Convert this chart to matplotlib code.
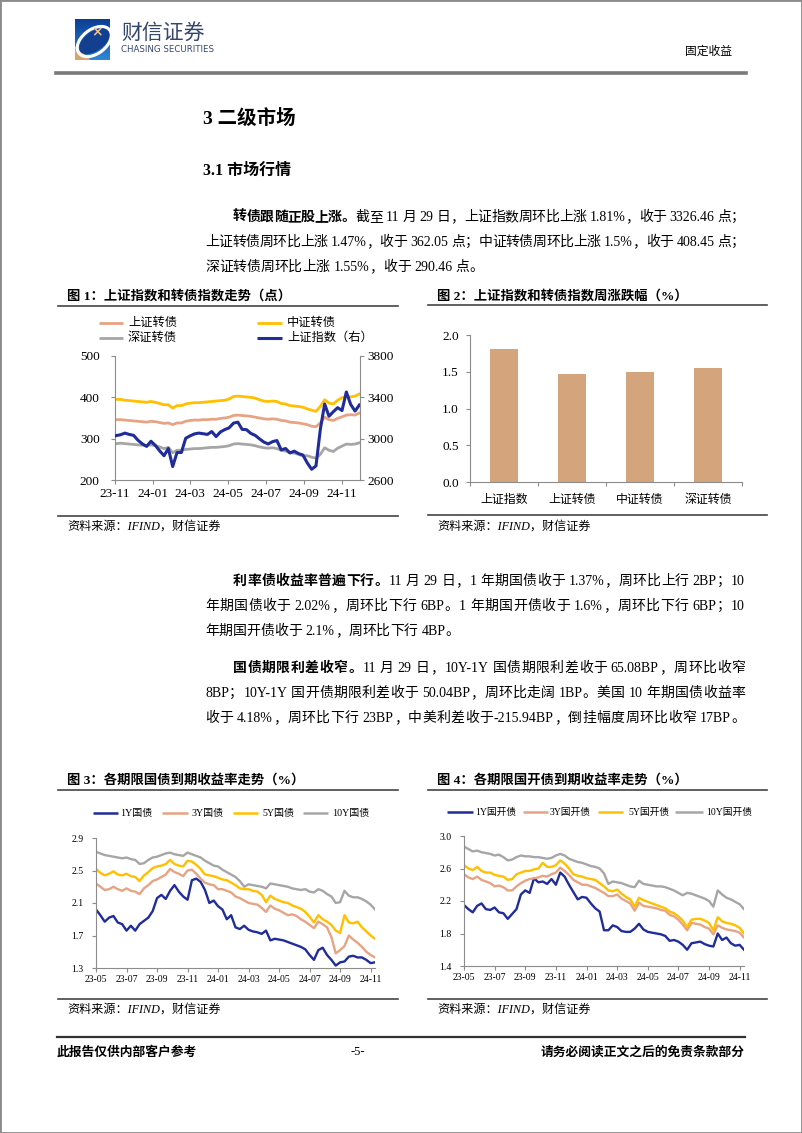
import numpy as np
import pandas as pd
import matplotlib
matplotlib.use("Agg")
import matplotlib.pyplot as plt
import matplotlib.dates as mdates
from matplotlib.lines import Line2D
from matplotlib.patches import Rectangle, Polygon, Ellipse
from matplotlib.colors import LinearSegmentedColormap

W, H = 802, 1133
SERIF = ['Liberation Serif', 'Noto Sans CJK SC']
SANS = ['Noto Sans CJK SC', 'DejaVu Sans']

BLUE = '#1f2c99'
ORANGE = '#e6a484'
YELLOW = '#ffc000'
GRAY = '#a6a6a6'
BAR = '#d4a57c'
SPINE = '#8c8c8c'

# ---------------- data ----------------
# fig 1: weekly closes, 2023-11 .. 2024-11-29
week_dates = pd.date_range('2023-11-03', '2024-11-29', freq='W-FRI')
sse = [3030, 3038, 3054, 3041, 3032, 2985, 2950, 2925, 2975, 2935, 2882, 2835, 2905, 2730, 2866,
       2866, 3004, 3027, 3046, 3054, 3048, 3041, 3069, 3020, 3065, 3088, 3105, 3150, 3160, 3090,
       3087, 3051, 3032, 2998, 2967, 2949, 2971, 2982, 2891, 2905, 2862, 2879, 2855, 2842, 2765,
       2704, 2736, 3088, 3336, 3217, 3261, 3300, 3272, 3452, 3331, 3267, 3326]
sh_cb = [346, 346, 345, 344, 343, 342, 341, 340, 342, 341, 339, 337, 338, 334, 338, 338, 342, 344,
         345, 345, 346, 346, 347, 347, 349, 350, 352, 356, 357, 356, 355, 354, 352, 350, 348, 347,
         348, 347, 344, 343, 340, 339, 338, 336, 334, 330, 329, 338, 352, 346, 344, 349, 353, 357,
         358, 357, 362]
csi_cb = [395, 395, 393, 392, 391, 390, 389, 388, 390, 388, 385, 382, 382, 374, 380, 380, 384, 386,
          387, 387, 388, 389, 390, 391, 392, 393, 396, 402, 403, 402, 401, 400, 398, 394, 391, 390,
          391, 390, 385, 384, 380, 379, 378, 376, 372, 369, 366, 378, 394, 386, 384, 393, 399, 402,
          401, 403, 408]
sz_cb = [288, 289, 288, 287, 286, 285, 284, 284, 285, 283, 280, 276, 279, 266, 272, 272, 274, 275,
         276, 276, 277, 278, 279, 279, 280, 281, 283, 287, 288, 287, 286, 285, 283, 280, 278, 277,
         278, 276, 272, 270, 266, 265, 262, 258, 259, 255, 253, 262, 278, 272, 269, 277, 282, 287,
         286, 287, 290]

# fig 2: weekly change (%)
bar_names = ['上证指数', '上证转债', '中证转债', '深证转债']
bar_chg = [1.81, 1.47, 1.5, 1.55]

# fig 3 / fig 4: yields (%), sampled points 23-05 .. 24-11
ytick_labels = ['23-05', '23-07', '23-09', '23-11', '24-01', '24-03', '24-05', '24-07', '24-09', '24-11']
gov_1y = [2.02, 1.95, 1.87, 1.92, 1.94, 1.86, 1.84, 1.76, 1.82, 1.76, 1.84, 1.88, 1.92, 2.00, 2.16,
          2.20, 2.15, 2.25, 2.32, 2.24, 2.18, 2.14, 2.38, 2.40, 2.36, 2.26, 2.10, 2.13, 2.06, 2.02,
          1.90, 1.95, 1.80, 1.78, 1.82, 1.77, 1.75, 1.74, 1.72, 1.76, 1.64, 1.66, 1.65, 1.64, 1.62,
          1.60, 1.58, 1.56, 1.53, 1.46, 1.40, 1.52, 1.55, 1.46, 1.40, 1.33, 1.37, 1.38, 1.44, 1.45,
          1.43, 1.43, 1.40, 1.36, 1.37]
gov_3y = [2.34, 2.30, 2.26, 2.27, 2.30, 2.27, 2.25, 2.28, 2.25, 2.24, 2.21, 2.28, 2.32, 2.37, 2.39,
          2.42, 2.45, 2.52, 2.48, 2.46, 2.43, 2.50, 2.51, 2.46, 2.40, 2.35, 2.33, 2.32, 2.27, 2.27,
          2.25, 2.23, 2.18, 2.16, 2.13, 2.10, 2.09, 2.08, 2.04, 1.99, 2.07, 2.03, 2.01, 1.98, 1.95,
          1.96, 1.94, 1.90, 1.87, 1.83, 1.79, 1.87, 1.84, 1.80, 1.68, 1.48, 1.52, 1.57, 1.70, 1.65,
          1.61, 1.56, 1.50, 1.46, 1.43]
gov_5y = [2.52, 2.47, 2.44, 2.46, 2.49, 2.45, 2.44, 2.46, 2.43, 2.42, 2.37, 2.44, 2.48, 2.53, 2.55,
          2.56, 2.58, 2.63, 2.58, 2.56, 2.55, 2.62, 2.61, 2.57, 2.52, 2.45, 2.44, 2.43, 2.41, 2.39,
          2.38, 2.35, 2.32, 2.28, 2.27, 2.27, 2.25, 2.24, 2.20, 2.11, 2.19, 2.15, 2.13, 2.11, 2.10,
          2.07, 2.05, 2.03, 1.99, 1.93, 1.86, 1.95, 1.90, 1.87, 1.83, 1.76, 1.73, 1.95, 1.86, 1.85,
          1.87, 1.80, 1.75, 1.70, 1.66]
gov_10y = [2.73, 2.71, 2.69, 2.68, 2.67, 2.66, 2.65, 2.66, 2.64, 2.63, 2.58, 2.59, 2.63, 2.66, 2.67,
           2.69, 2.71, 2.72, 2.70, 2.69, 2.68, 2.72, 2.70, 2.68, 2.66, 2.62, 2.59, 2.56, 2.55, 2.51,
           2.48, 2.45, 2.42, 2.37, 2.30, 2.33, 2.32, 2.31, 2.30, 2.28, 2.34, 2.33, 2.32, 2.31, 2.30,
           2.28, 2.27, 2.26, 2.27, 2.24, 2.23, 2.27, 2.25, 2.21, 2.18, 2.10, 2.11, 2.25, 2.19, 2.17,
           2.17, 2.15, 2.12, 2.08, 2.02]
cdb_1y = [2.15, 2.10, 2.06, 2.14, 2.17, 2.10, 2.09, 2.12, 2.06, 2.05, 1.98, 2.04, 2.10, 2.28, 2.33,
          2.30, 2.48, 2.43, 2.44, 2.41, 2.47, 2.40, 2.55, 2.50, 2.40, 2.31, 2.22, 2.25, 2.24, 2.17,
          2.11, 2.07, 1.84, 1.84, 1.90, 1.88, 1.83, 1.82, 1.82, 1.86, 1.92, 1.85, 1.82, 1.81, 1.80,
          1.79, 1.77, 1.71, 1.72, 1.70, 1.66, 1.60, 1.68, 1.69, 1.70, 1.67, 1.65, 1.64, 1.80, 1.72,
          1.75, 1.68, 1.65, 1.66, 1.60]
cdb_3y = [2.53, 2.49, 2.47, 2.50, 2.46, 2.44, 2.42, 2.38, 2.39, 2.37, 2.33, 2.33, 2.38, 2.42, 2.45,
          2.47, 2.48, 2.49, 2.51, 2.50, 2.53, 2.55, 2.61, 2.57, 2.52, 2.46, 2.43, 2.40, 2.40, 2.38,
          2.36, 2.33, 2.30, 2.26, 2.26, 2.28, 2.23, 2.20, 2.17, 2.08, 2.18, 2.14, 2.13, 2.12, 2.11,
          2.09, 2.08, 2.03, 2.01, 1.97, 1.91, 1.84, 1.93, 1.92, 1.91, 1.88, 1.86, 1.79, 1.90, 1.87,
          1.85, 1.84, 1.83, 1.81, 1.75]
cdb_5y = [2.64, 2.60, 2.58, 2.62, 2.57, 2.55, 2.55, 2.52, 2.51, 2.50, 2.46, 2.47, 2.53, 2.55, 2.57,
          2.57, 2.59, 2.60, 2.67, 2.62, 2.62, 2.64, 2.70, 2.66, 2.60, 2.53, 2.51, 2.50, 2.48, 2.47,
          2.46, 2.42, 2.38, 2.33, 2.32, 2.34, 2.29, 2.25, 2.22, 2.13, 2.24, 2.21, 2.19, 2.17, 2.15,
          2.13, 2.11, 2.07, 2.05, 2.01, 1.96, 1.88, 1.97, 1.98, 1.98, 1.96, 1.93, 1.84, 2.00, 1.95,
          1.93, 1.92, 1.90, 1.87, 1.80]
cdb_10y = [2.87, 2.84, 2.81, 2.82, 2.80, 2.79, 2.78, 2.76, 2.77, 2.74, 2.70, 2.71, 2.74, 2.76, 2.75,
           2.75, 2.74, 2.74, 2.73, 2.72, 2.73, 2.76, 2.78, 2.76, 2.72, 2.70, 2.68, 2.67, 2.65, 2.63,
           2.62, 2.60, 2.54, 2.41, 2.44, 2.43, 2.42, 2.40, 2.38, 2.37, 2.45, 2.41, 2.40, 2.39, 2.38,
           2.38, 2.37, 2.35, 2.33, 2.30, 2.27, 2.30, 2.29, 2.27, 2.25, 2.23, 2.20, 2.13, 2.33, 2.28,
           2.24, 2.22, 2.19, 2.16, 2.10]

fig = plt.figure(figsize=(W / 100, H / 100), dpi=100)
renderer = fig.canvas.get_renderer()


def fx(x):
    return x / W


def fy(y):
    return 1 - y / H


def box(l, t, r, b):
    return [fx(l), fy(b), (r - l) / W, (b - t) / H]


def put(x, y, s, size, family=SERIF, **kw):
    kw.setdefault('va', 'center')
    return fig.text(fx(x), fy(y), s, fontsize=size, family=family, **kw)


def hline(x0, x1, y, lw=1.2, color='#444444'):
    fig.add_artist(Line2D([fx(x0), fx(x1)], [fy(y), fy(y)], transform=fig.transFigure,
                          color=color, lw=lw))


def tokens(s):
    out, buf, space = [], '', False
    for ch in s:
        if ch == ' ':
            if buf:
                out.append((buf, space))
                buf, space = '', False
            space = True
        elif ord(ch) < 128:
            buf += ch
        else:
            if buf:
                out.append((buf, space))
                buf, space = '', False
            out.append((ch, space))
            space = False
    if buf:
        out.append((buf, space))
    return out


def para_line(x0, x1, y, parts, size=10, justify=True):
    # parts: (text, bold) pieces; CJK chars spread evenly to fill x0..x1
    items = []
    for s, bold in parts:
        for tk, sp in tokens(s):
            items.append((tk, sp, bold))
    arts, widths, pre = [], [], []
    sp_w = size * 100 / 72 * 0.25
    for tk, sp, bold in items:
        t = fig.text(0, fy(y + 5), tk, fontsize=size, family=SERIF,
                     weight='bold' if bold else 'normal', va='baseline')
        arts.append(t)
        widths.append(t.get_window_extent(renderer).width)
        pre.append(sp_w if sp else 0)
    gap = 0
    if justify and len(items) > 1:
        gap = (x1 - x0 - sum(widths) - sum(pre)) / (len(items) - 1)
    x = x0
    for i, t in enumerate(arts):
        x += pre[i]
        t.set_x(fx(x))
        x += widths[i] + gap


def legend_item(x0, x1, y, color, lw, label, size, tx):
    fig.add_artist(Line2D([fx(x0), fx(x1)], [fy(y), fy(y)], transform=fig.transFigure,
                          color=color, lw=lw, solid_capstyle='butt'))
    put(tx, y, label, size)


def style_axes(ax, size):
    for side in ['top', 'right']:
        ax.spines[side].set_visible(False)
    for side in ['left', 'bottom']:
        ax.spines[side].set_color(SPINE)
        ax.spines[side].set_linewidth(0.8)
    ax.tick_params(colors=SPINE, labelcolor='black', labelsize=size, length=3, width=0.8)
    for lab in ax.get_xticklabels() + ax.get_yticklabels():
        lab.set_family(SERIF)
    ax.set_facecolor('none')


# ---------------- page frame / header ----------------
fig.add_artist(Rectangle((0, 0), 1, 1, transform=fig.transFigure, fill=False,
                         edgecolor='#8a8a8a', lw=2))

lg = fig.add_axes(box(75, 19, 110, 60))
grad = np.linspace(0, 1, 64).reshape(-1, 1) * np.ones((1, 64))
lg.imshow(grad, cmap=LinearSegmentedColormap.from_list('lg', ['#0c3e94', '#2f86d6']),
          extent=[0, 1, 0, 1], aspect='auto')
lg.add_patch(Polygon([(0, 0), (0.42, 0), (0, 0.32)], color='#d9a36e'))
lg.add_patch(Ellipse((0.55, 0.45), 1.05, 0.62, angle=28, fill=False, ec='white', lw=2.2))
lg.add_patch(Ellipse((0.55, 0.45), 0.9, 0.45, angle=28, color='#123f8f'))
lg.text(0.62, 0.68, '×', color='#f0c08a', fontsize=10, ha='center', va='center', weight='bold')
lg.set_xlim(0, 1)
lg.set_ylim(0, 1)
lg.axis('off')

put(121, 33, '财信证券', 15, family=SANS, color='#34466e')
put(121, 50, 'CHASING SECURITIES', 6.2, family=['DejaVu Sans'], color='#34466e')
put(732, 51, '固定收益', 8.5, family=SANS, ha='right')
hline(56, 746, 73, lw=2.6, color='#7a7a7a')

# ---------------- body text ----------------
put(203, 118, '3 二级市场', 14, weight='bold')
put(203, 171, '3.1 市场行情', 11.5, weight='bold')

para_line(233, 745, 216, [('转债跟随正股上涨。', True),
                          ('截至 11 月 29 日，上证指数周环比上涨 1.81%，收于 3326.46 点；', False)])
para_line(205, 745, 241, [('上证转债周环比上涨 1.47%，收于 362.05 点；中证转债周环比上涨 1.5%，收于 408.45 点；', False)])
para_line(205, 745, 266, [('深证转债周环比上涨 1.55%，收于 290.46 点。', False)], justify=False)

para_line(233, 745, 580, [('利率债收益率普遍下行。', True),
                          ('11 月 29 日，1 年期国债收于 1.37%，周环比上行 2BP；10', False)])
para_line(205, 745, 605, [('年期国债收于 2.02%，周环比下行 6BP。1 年期国开债收于 1.6%，周环比下行 6BP；10', False)])
para_line(205, 745, 630, [('年期国开债收于 2.1%，周环比下行 4BP。', False)], justify=False)

para_line(233, 745, 667, [('国债期限利差收窄。', True),
                          ('11 月 29 日，10Y-1Y 国债期限利差收于 65.08BP，周环比收窄', False)])
para_line(205, 745, 692, [('8BP；10Y-1Y 国开债期限利差收于 50.04BP，周环比走阔 1BP。美国 10 年期国债收益率', False)])
para_line(205, 745, 717, [('收于 4.18%，周环比下行 23BP，中美利差收于-215.94BP，倒挂幅度周环比收窄 17BP。', False)])

# ---------------- chart frames ----------------
put(67, 296, '图 1：上证指数和转债指数走势（点）', 9.6, weight='bold')
put(437, 296, '图 2：上证指数和转债指数周涨跌幅（%）', 9.6, weight='bold')
put(67, 780, '图 3：各期限国债到期收益率走势（%）', 9.6, weight='bold')
put(437, 780, '图 4：各期限国开债到期收益率走势（%）', 9.6, weight='bold')
hline(58, 398, 306)
hline(428, 767, 305)
hline(58, 398, 516)
hline(428, 767, 515)
hline(58, 398, 790)
hline(428, 767, 790)
hline(58, 398, 999)
hline(428, 767, 999)
for sx, sy in [(67, 527), (437, 527), (67, 1010), (437, 1010)]:
    put(sx, sy, '资料来源：IFIND，财信证券', 8.7, style='italic')

# ---------------- fig 1 ----------------
legend_item(99, 123, 323, ORANGE, 2.0, '上证转债', 8.8, 128)
legend_item(257, 282, 323, YELLOW, 2.0, '中证转债', 8.8, 287)
legend_item(99, 123, 338, GRAY, 2.0, '深证转债', 8.8, 128)
legend_item(257, 282, 338, BLUE, 2.2, '上证指数（右）', 8.8, 287)

ax1 = fig.add_axes(box(115, 356, 360, 480))
ax1.plot(week_dates, sh_cb, color=ORANGE, lw=2.0)
ax1.plot(week_dates, csi_cb, color=YELLOW, lw=2.0)
ax1.plot(week_dates, sz_cb, color=GRAY, lw=2.0)
ax1.set_ylim(200, 500)
ax1.set_yticks([200, 300, 400, 500])
ax1.set_xlim(pd.Timestamp('2023-11-01'), pd.Timestamp('2024-11-30'))
ax1.xaxis.set_major_locator(mdates.MonthLocator(bymonth=[1, 3, 5, 7, 9, 11]))
ax1.xaxis.set_major_formatter(mdates.DateFormatter('%y-%m'))
style_axes(ax1, 9.5)
ax1.tick_params(axis='y', pad=8)
ax1.tick_params(axis='x', pad=3)

ax1r = ax1.twinx()
ax1r.plot(week_dates, sse, color=BLUE, lw=2.2)
ax1r.set_ylim(2600, 3800)
ax1r.set_yticks([2600, 3000, 3400, 3800])
for side in ['top', 'left', 'bottom']:
    ax1r.spines[side].set_visible(False)
ax1r.spines['right'].set_color(SPINE)
ax1r.spines['right'].set_linewidth(0.8)
ax1r.tick_params(colors=SPINE, labelcolor='black', labelsize=9.5, length=3, width=0.8, pad=2)
for lab in ax1r.get_yticklabels():
    lab.set_family(SERIF)
ax1r.set_xlim(pd.Timestamp('2023-11-01'), pd.Timestamp('2024-11-30'))

# ---------------- fig 2 ----------------
ax2 = fig.add_axes(box(470, 335, 742, 482))
pos = np.arange(len(bar_names))
ax2.bar(pos, bar_chg, width=0.4, color=BAR)
ax2.set_xlim(-0.5, len(bar_names) - 0.5)
ax2.set_ylim(0, 2.0)
ax2.set_yticks([0, 0.5, 1.0, 1.5, 2.0])
ax2.set_yticklabels(['%.1f' % v for v in [0, 0.5, 1.0, 1.5, 2.0]])
ax2.set_xticks(np.arange(-0.5, len(bar_names), 1.0))
ax2.set_xticklabels([])
ax2.set_xticks(pos, minor=True)
ax2.set_xticklabels(bar_names, minor=True)
style_axes(ax2, 9.5)
ax2.tick_params(axis='y', pad=5)
ax2.tick_params(axis='x', which='minor', length=0, pad=8, labelsize=8.6)
for lab in ax2.get_xticklabels(minor=True):
    lab.set_family(SANS)

# ---------------- fig 3 / fig 4 ----------------
idx = np.arange(len(gov_1y))
tick_pos = np.arange(0, len(gov_1y), 7)


def yield_chart(rect, series, yticks):
    ax = fig.add_axes(rect)
    for vals, color in zip(series, [BLUE, ORANGE, YELLOW, GRAY]):
        ax.plot(idx, vals, color=color, lw=1.7)
    ax.set_xlim(0, len(idx) - 1)
    ax.set_ylim(yticks[0], yticks[-1])
    ax.set_yticks(yticks)
    ax.set_yticklabels(['%.1f' % v for v in yticks])
    ax.set_xticks(tick_pos)
    ax.set_xticklabels(ytick_labels)
    style_axes(ax, 7.0)
    ax.tick_params(axis='y', pad=6)
    ax.tick_params(axis='x', pad=2)
    return ax


ax3 = yield_chart(box(96, 838, 375, 968), [gov_1y, gov_3y, gov_5y, gov_10y],
                  [1.3, 1.7, 2.1, 2.5, 2.9])
legend_item(93, 118, 813, BLUE, 1.8, '1Y国债', 7.2, 120)
legend_item(162, 188, 813, ORANGE, 1.8, '3Y国债', 7.2, 192)
legend_item(233, 258, 813, YELLOW, 1.8, '5Y国债', 7.2, 262)
legend_item(303, 328, 813, GRAY, 1.8, '10Y国债', 7.2, 332)

ax4 = yield_chart(box(464, 836, 744, 966), [cdb_1y, cdb_3y, cdb_5y, cdb_10y],
                  [1.4, 1.8, 2.2, 2.6, 3.0])
legend_item(447, 473, 812, BLUE, 1.8, '1Y国开债', 7.0, 475)
legend_item(523, 548, 812, ORANGE, 1.8, '3Y国开债', 7.0, 550)
legend_item(598, 623, 812, YELLOW, 1.8, '5Y国开债', 7.0, 628)
legend_item(675, 703, 812, GRAY, 1.8, '10Y国开债', 7.0, 706)

# ---------------- footer ----------------
hline(57, 745, 1037, lw=1.6, color='#333333')
put(57, 1052, '此报告仅供内部客户参考', 9.2, weight='bold')
put(358, 1052, '-5-', 9, ha='center')
put(745, 1052, '请务必阅读正文之后的免责条款部分', 9.2, weight='bold', ha='right')

fig.savefig('out.png', dpi=100)
